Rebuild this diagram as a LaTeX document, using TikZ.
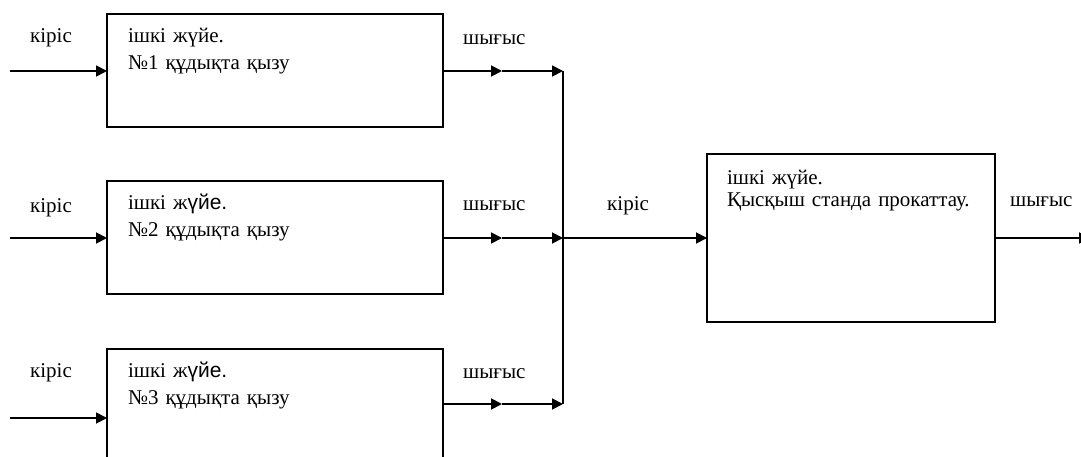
\documentclass[tikz,border=0pt]{standalone}
\usepackage{fontspec}
\setmainfont{Liberation Serif}
\newfontfamily\arialfont{Liberation Sans}
\usetikzlibrary{positioning,arrows.meta}

\begin{document}
\begin{tikzpicture}[x=1pt,y=-1pt,
  sub/.style={draw,line width=1.8pt,anchor=north west,outer sep=0pt,text width=294pt,inner xsep=21pt,inner ysep=0pt,align=left,text height=29pt,text depth=84pt,font=\fontsize{21}{27}\selectfont},
  main/.style={draw,line width=1.8pt,anchor=north west,outer sep=0pt,text width=248pt,inner xsep=20pt,inner ysep=0pt,align=left,text height=31pt,text depth=137pt,font=\fontsize{21}{22}\selectfont},
  lbl/.style={anchor=base west,inner sep=0pt,font=\fontsize{21}{22}\selectfont},
  ln/.style={line width=1.8pt},
  ar/.style={-{Triangle[length=11pt,width=11pt]},line width=1.8pt}]
\useasboundingbox (0,0) rectangle (1081,457);
% subsystems
\node[sub] (b1) at (107,14) {ішкі жүйе.\\№1 құдықта қызу};
\node[sub] (b2) at (107,181) {ішкі ж{\arialfont үйе.}\\№2 құдықта қызу};
\node[sub,text height=28pt,text depth=93pt] (b3) at (107,349) {ішкі ж{\arialfont үйе.}\\№3 құдықта қызу};
\node[main] (mb) at (707,154) {ішкі жүйе.\\Қысқыш станда прокаттау.};
% labels
\node[lbl] (k1) at (30,43) {кіріс};
\node[lbl] (k2) at (30,212) {кіріс};
\node[lbl] (k3) at (30,377) {кіріс};
\node[lbl] (o1) at (463,45) {шығыс};
\node[lbl] (o2) at (463,211) {шығыс};
\node[lbl] (o3) at (463,378) {шығыс};
\node[lbl] (k4) at (607,211) {кіріс};
\node[lbl] (o4) at (1010,207) {шығыс};
% connectors
\foreach \i/\yo/\yi in {1/71/71,2/238/238,3/404/418} {
  \coordinate (s\i) at (10,\yi);
  \coordinate (m\i) at (502,\yo);
  \coordinate (j\i) at (563,\yo);
  \draw[ar] (s\i) -- (b\i.west |- s\i);
  \draw[ar] (b\i.east |- m\i) -- (m\i);
  \draw[ar] (m\i) -- (j\i);
}
\draw[ln] (j1) -- (j3);
\draw[ar] (j2) -- (mb.west);
\coordinate (out) at (1090,238);
\draw[ar] (mb.east) -- (out);
\end{tikzpicture}
\end{document}
